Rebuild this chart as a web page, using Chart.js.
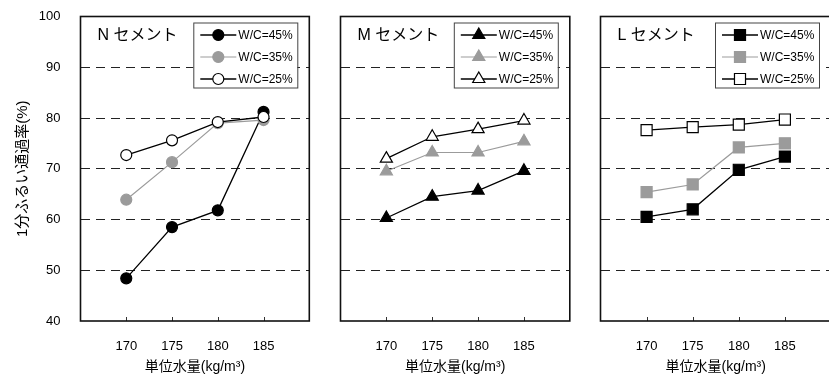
<!DOCTYPE html>
<html lang="ja">
<head>
<meta charset="utf-8">
<script src="https://cdn.jsdelivr.net/npm/chart.js@4.4.1/dist/chart.umd.min.js"></script>
<style>
  html, body { margin: 0; padding: 0; background: #fff; overflow: hidden; }
  body { width: 829px; height: 376px; position: relative; }
  .panel { position: absolute; top: 0; height: 376px; }
</style>
</head>
<body>
<div class="panel" style="left:0px"><canvas id="c1" width="316" height="376"></canvas></div>
<div class="panel" style="left:330px"><canvas id="c2" width="248" height="376"></canvas></div>
<div class="panel" style="left:590px"><canvas id="c3" width="250" height="376"></canvas></div>
<script>
// data
const waterContent = [170, 175, 180, 185];          // x tick labels
const yTickLabels = [40, 50, 60, 70, 80, 90, 100];
const seriesLabels = ['W/C=45%', 'W/C=35%', 'W/C=25%'];
const panelTitles = ['N セメント', 'M セメント', 'L セメント'];

const nCement45 = [48.4, 58.5, 61.8, 81.2];
const nCement35 = [63.9, 71.3, 79.0, 79.6];
const nCement25 = [72.7, 75.6, 79.2, 80.2];

const mCement45 = [60.3, 64.5, 65.7, 69.6];
const mCement35 = [69.5, 73.2, 73.2, 75.4];
const mCement25 = [72.0, 76.3, 77.8, 79.5];

const lCement45 = [60.5, 62.0, 69.8, 72.4];
const lCement35 = [65.4, 66.9, 74.2, 75.0];
const lCement25 = [77.6, 78.2, 78.7, 79.7];

const yTitle = '1分ふるい通過率(%)';
const xTitle = '単位水量(kg/m³)';

const GRAY = '#9b9b9b';

Chart.defaults.font.family = "'Liberation Sans', Arial, 'Noto Sans CJK JP', sans-serif";
Chart.defaults.color = '#000';

// frame, inner tick marks, panel title and the boxed legend
const panelDecor = {
    id: 'panelDecor',
    afterDraw(chart, args, opts) {
        const ctx = chart.ctx;
        const a = chart.chartArea;
        const xs = chart.scales.x;
        ctx.save();

        // tick marks pointing inward
        ctx.strokeStyle = '#333';
        ctx.lineWidth = 1;
        waterContent.forEach((v) => {
            const px = Math.round(xs.getPixelForValue(v)) + 0.5;
            ctx.beginPath();
            ctx.moveTo(px, a.bottom);
            ctx.lineTo(px, a.bottom - 4);
            ctx.stroke();
        });

        // frame
        ctx.strokeStyle = '#111';
        ctx.lineWidth = 1.6;
        ctx.strokeRect(a.left, a.top, a.right - a.left, a.bottom - a.top);

        // panel title
        ctx.fillStyle = '#000';
        ctx.font = "16px 'Liberation Sans', 'Noto Sans CJK JP', sans-serif";
        ctx.textBaseline = 'middle';
        ctx.textAlign = 'left';
        ctx.fillText(opts.title, a.left + 17, a.top + 19);

        // legend box
        const bw = 104, bh = 65;
        const bx = a.right - 12 - bw;
        const by = a.top + 6;
        ctx.fillStyle = '#fff';
        ctx.fillRect(bx, by, bw, bh);
        ctx.strokeStyle = '#444';
        ctx.lineWidth = 1;
        ctx.strokeRect(bx + 0.5, by + 0.5, bw, bh);

        chart.data.datasets.forEach((ds, i) => {
            const y = by + 12.5 + i * 22;
            ctx.strokeStyle = ds.borderColor;
            ctx.lineWidth = ds.borderWidth;
            ctx.beginPath();
            ctx.moveTo(bx + 7, y);
            ctx.lineTo(bx + 43, y);
            ctx.stroke();

            ctx.fillStyle = ds.pointBackgroundColor;
            ctx.strokeStyle = ds.pointBorderColor;
            ctx.lineWidth = ds.pointBorderWidth;
            Chart.helpers.drawPoint(ctx, {
                pointStyle: ds.pointStyle,
                radius: ds.pointRadius,
                rotation: 0,
                borderWidth: ds.pointBorderWidth
            }, bx + 25, y);

            ctx.fillStyle = '#000';
            ctx.font = "12px 'Liberation Sans', Arial, sans-serif";
            ctx.textBaseline = 'middle';
            ctx.fillText(ds.label, bx + 45, y + 0.5);
        });

        ctx.restore();
    }
};

function series(values) {
    return values.map((v, i) => ({ x: waterContent[i], y: v }));
}

function makeDatasets(v45, v35, v25, style, radius) {
    return [
        {
            label: seriesLabels[0],
            data: series(v45),
            borderColor: '#000',
            borderWidth: 1.3,
            pointStyle: style,
            pointRadius: radius,
            pointBackgroundColor: '#000',
            pointBorderColor: '#000',
            pointBorderWidth: 1.2,
            order: 3
        },
        {
            label: seriesLabels[1],
            data: series(v35),
            borderColor: GRAY,
            borderWidth: 1.2,
            pointStyle: style,
            pointRadius: radius,
            pointBackgroundColor: GRAY,
            pointBorderColor: GRAY,
            pointBorderWidth: 1.2,
            order: 2
        },
        {
            label: seriesLabels[2],
            data: series(v25),
            borderColor: '#000',
            borderWidth: 1.3,
            pointStyle: style,
            pointRadius: radius,
            pointBackgroundColor: '#fff',
            pointBorderColor: '#000',
            pointBorderWidth: 1.2,
            order: 1
        }
    ];
}

function makeChart(canvasId, datasets, title, first, padRight) {
    new Chart(document.getElementById(canvasId), {
        type: 'line',
        data: { datasets: datasets },
        options: {
            responsive: false,
            animation: false,
            events: [],
            layout: { padding: { top: 16.5, right: padRight, left: 0, bottom: 0 } },
            plugins: {
                legend: { display: false },
                tooltip: { enabled: false },
                panelDecor: { title: title }
            },
            scales: {
                x: {
                    type: 'linear',
                    min: 165,
                    max: 190,
                    afterBuildTicks: (scale) => {
                        scale.ticks = waterContent.map((v) => ({ value: v }));
                    },
                    afterFit: (scale) => {
                        scale.height = 55;
                        scale.paddingLeft = 0;
                        scale.paddingRight = 0;
                    },
                    grid: { display: false, drawTicks: false },
                    border: { display: false },
                    ticks: { padding: 18, font: { size: 13 }, color: '#000' },
                    title: {
                        display: true,
                        text: xTitle,
                        font: { size: 14, family: "'Liberation Sans', 'Noto Sans CJK JP', sans-serif" },
                        color: '#000',
                        padding: { top: 0, bottom: 0 }
                    }
                },
                y: {
                    min: 40,
                    max: 100,
                    afterBuildTicks: (scale) => {
                        scale.ticks = yTickLabels.map((v) => ({ value: v }));
                    },
                    afterFit: (scale) => {
                        scale.width = first ? 80.5 : 10.5;
                        scale.paddingTop = 0;
                        scale.paddingBottom = 0;
                    },
                    grid: {
                        drawTicks: false,
                        color: (c) => (c.tick && (c.tick.value === 40 || c.tick.value === 100)) ? 'rgba(0,0,0,0)' : '#222',
                        lineWidth: 1
                    },
                    border: { display: false, dash: [9, 6] },
                    ticks: { display: first, padding: 20, font: { size: 13 }, color: '#000' },
                    title: {
                        display: first,
                        text: yTitle,
                        font: { size: 15, family: "'Liberation Sans', 'Noto Sans CJK JP', sans-serif" },
                        color: '#000',
                        padding: { top: 14, bottom: 0 }
                    }
                }
            }
        },
        plugins: [panelDecor]
    });
}

makeChart('c1', makeDatasets(nCement45, nCement35, nCement25, 'circle', 5.5), panelTitles[0], true, 2.5);
makeChart('c2', makeDatasets(mCement45, mCement35, mCement25, 'triangle', 7), panelTitles[1], false, 4);
makeChart('c3', makeDatasets(lCement45, lCement35, lCement25, 'rect', 7.8), panelTitles[2], false, 5);
</script>
</body>
</html>
